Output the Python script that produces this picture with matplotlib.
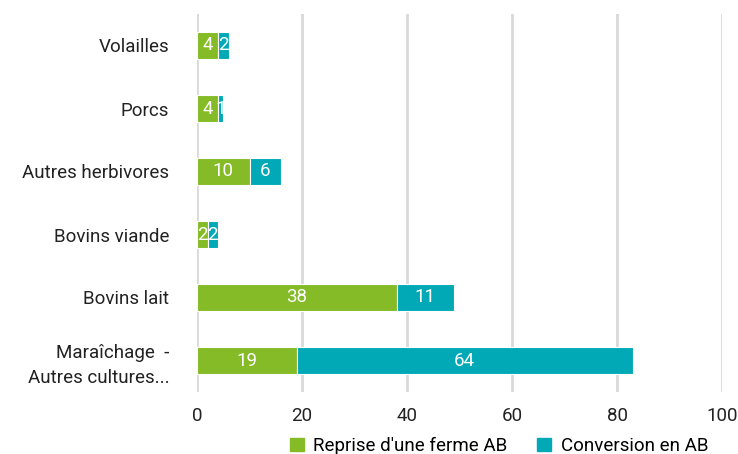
import matplotlib
matplotlib.use("Agg")
import matplotlib.pyplot as plt
from matplotlib.patches import Patch

categories = ["Maraîchage  -\nAutres cultures...", "Bovins lait", "Bovins viande",
              "Autres herbivores", "Porcs", "Volailles"]
reprise = [19, 38, 2, 10, 4, 4]
conversion = [64, 11, 2, 6, 1, 2]
xticks = [0, 20, 40, 60, 80, 100]
series_names = ["Reprise d'une ferme AB", "Conversion en AB"]

green = "#84bb26"
teal = "#00a9b5"

plt.rcParams['font.family'] = ['Roboto', 'DejaVu Sans']
fs = 13.5

fig = plt.figure(figsize=(7.38, 4.54), dpi=100)
W, H = 738, 454
ax = fig.add_axes([197 / W, (H - 392) / H, (722 - 197) / W, (392 - 14) / H])

y = list(range(len(categories)))
bh = 0.42
b1 = ax.barh(y, reprise, height=bh, color=green, edgecolor="white", linewidth=0.8, zorder=3)
b2 = ax.barh(y, conversion, left=reprise, height=bh, color=teal, edgecolor="white", linewidth=0.8, zorder=3)

for rects, vals, lefts in ((b1, reprise, [0] * len(reprise)), (b2, conversion, reprise)):
    for r, v, l in zip(rects, vals, lefts):
        ax.text(l + v / 2, r.get_y() + r.get_height() / 2, str(v), ha="center", va="center",
                color="white", fontsize=fs, zorder=4)

ax.set_xlim(0, 100)
ax.set_ylim(-0.5, 5.5)
ax.set_xticks(xticks)
ax.set_xticklabels([str(t) for t in xticks])
ax.set_yticks(y)
ax.set_yticklabels(categories, fontsize=fs, color="#222222")
ax.tick_params(axis="x", length=0, pad=11, labelsize=fs, colors="#222222")
ax.tick_params(axis="y", length=0, pad=20)
for lbl in ax.get_yticklabels():
    lbl.set_horizontalalignment("right")
    lbl.set_multialignment("right")
    lbl.set_linespacing(1.45)
ax.grid(axis="x", color="#d9d9d9", linewidth=2, zorder=0)
ax.set_axisbelow(True)
for s in ax.spines.values():
    s.set_visible(False)

handles = [Patch(color=green), Patch(color=teal)]
fig.legend(handles, series_names, loc="center", bbox_to_anchor=(499 / W, 1 - 446 / H),
           ncol=2, frameon=False, fontsize=fs, handlelength=0.75, handleheight=0.75,
           handletextpad=0.5, columnspacing=1.6)

fig.savefig("out.png", dpi=100)
